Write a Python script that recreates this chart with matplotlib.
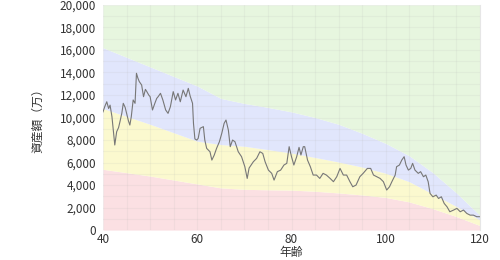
import matplotlib.pyplot as plt

plt.rcParams['font.family'] = ['Noto Sans CJK JP', 'DejaVu Sans']

# percentile bands (万)
band_age = [40, 45, 50, 55, 60, 65, 70, 75, 80, 85, 90, 95, 100, 105, 110, 115, 120]
band_low = [5400, 5100, 4800, 4450, 4100, 3750, 3620, 3580, 3550, 3450, 3300, 3120,
            2900, 2500, 1900, 1200, 400]
band_mid = [10800, 10100, 9400, 8650, 7900, 7600, 7450, 7150, 6850, 6450, 6050, 5600,
            5050, 4300, 3200, 2100, 900]
band_high = [16200, 15350, 14500, 13650, 12800, 11700, 11250, 10900, 10500, 10000, 9400,
             8600, 7700, 6600, 5100, 3300, 1300]
band_top = 20000

# one simulated path
path_age = [40.0, 40.4, 40.8, 41.2, 41.5, 41.9, 42.2, 42.5, 42.9, 43.3, 43.6, 44.0, 44.3,
            44.7, 45.0, 45.4, 45.7, 46.0, 46.4, 46.8, 47.1, 47.4, 47.7, 48.2, 48.6,
            49.0, 49.3, 49.7, 50.0, 50.5, 51.0, 51.4, 51.7, 52.2, 52.7, 53.3, 53.8,
            54.3, 54.9, 55.4, 55.9, 56.4, 57.0, 57.6, 58.1, 58.5, 59.0, 59.2, 59.5,
            59.9, 60.2, 60.6, 61.3, 61.6, 62.0, 62.7, 63.1, 63.6, 64.1, 64.7, 65.2,
            65.7, 66.1, 66.6, 67.0, 67.5, 68.0, 68.7, 69.4, 70.1, 70.6, 71.0, 71.9,
            72.6, 73.3, 73.9, 74.4, 75.1, 75.8, 76.3, 77.0, 77.7, 78.4, 79.0, 79.5,
            80.0, 80.5, 81.1, 81.6, 82.0, 82.5, 82.8, 83.4, 84.0, 84.6, 85.3, 86.0,
            86.7, 87.4, 88.2, 88.9, 89.6, 90.3, 91.0, 91.7, 92.4, 93.0, 93.7, 94.5,
            95.2, 96.1, 96.8, 97.4, 98.1, 98.8, 99.5, 100.2, 100.8, 101.3, 102.0,
            102.3, 102.9, 103.4, 103.9, 104.3, 104.8, 105.3, 105.7, 106.2, 106.9,
            107.4, 108.0, 108.5, 109.0, 109.4, 110.0, 110.7, 111.2, 111.8, 112.4,
            113.0, 113.6, 114.4, 115.1, 115.8, 116.5, 117.2, 117.9, 118.6, 119.3, 120.0]
path_val = [10500, 11000, 11400, 10800, 11100, 10070, 8800, 7560, 8740, 9100, 9630, 10400,
            11260, 10900, 10370, 9700, 9330, 10070, 11560, 11260, 13930, 13500, 13190,
            12890, 11850, 12500, 12300, 12000, 11850, 10670, 11260, 11700, 11850, 12150,
            11560, 10670, 10370, 10960, 12300, 11560, 12150, 11400, 12440, 11850, 12590,
            11900, 11260, 9480, 8100, 8000, 8150, 9040, 9190, 8000, 7260, 6960, 6220,
            6660, 7260, 7850, 8590, 9480, 9780, 8890, 7410, 8000, 7850, 6960, 6520, 5630,
            4590, 5510, 6070, 6370, 6960, 6810, 6070, 5330, 5040, 4440, 5190, 5330, 5780,
            5930, 7410, 6520, 5780, 6520, 7350, 6670, 7410, 7410, 6220, 5630, 4890, 4890,
            4590, 5040, 4890, 4590, 4300, 4740, 5480, 4890, 4890, 4300, 3850, 4000, 4740,
            5040, 5480, 5480, 4890, 4740, 4590, 4300, 3560, 3850, 4300, 4890, 5630, 5780,
            6220, 6520, 5780, 5330, 5480, 5930, 5330, 5040, 5190, 4740, 4890, 4300, 3260,
            2960, 3110, 2810, 2960, 2370, 2070, 1630, 1780, 1930, 1630, 1780, 1480, 1330,
            1330, 1190, 1190]

fig = plt.figure(figsize=(5.0, 2.6), dpi=100)
ax = fig.add_axes([0.206, 0.115, 0.754, 0.866])

ax.fill_between(band_age, 0, band_low, color='#fbe0e3', lw=0)
ax.fill_between(band_age, band_low, band_mid, color='#fbf9cf', lw=0)
ax.fill_between(band_age, band_mid, band_high, color='#e1e6fc', lw=0)
ax.fill_between(band_age, band_high, band_top, color='#e7f6df', lw=0)

ax.plot(path_age, path_val, color='#777777', lw=0.8)

ax.set_xlim(40, 120)
ax.set_ylim(0, 20000)
ax.set_xticks([40, 60, 80, 100, 120])
ax.set_yticks(range(0, 20001, 2000))
ax.set_yticklabels([f"{v:,}" for v in range(0, 20001, 2000)])
ax.set_xticks(range(40, 121, 5), minor=True)
ax.set_yticks(range(0, 20001, 1000), minor=True)
ax.grid(True, which='both', color='#b0b0b0', alpha=0.12, lw=0.8)
ax.tick_params(length=0, labelsize=8.5, colors='#333333', which='both')
ax.tick_params(axis='y', pad=5)
ax.tick_params(axis='x', pad=2)
for s in ax.spines.values():
    s.set_visible(False)
ax.spines['right'].set_visible(True)
ax.spines['right'].set_color('#e6e6e6')

ax.set_xlabel("年齢", fontsize=8.5, color='#333333', labelpad=0)
ax.set_ylabel("資産額（万）", fontsize=8.5, color='#333333', labelpad=11)

fig.savefig("out.png", dpi=100)
